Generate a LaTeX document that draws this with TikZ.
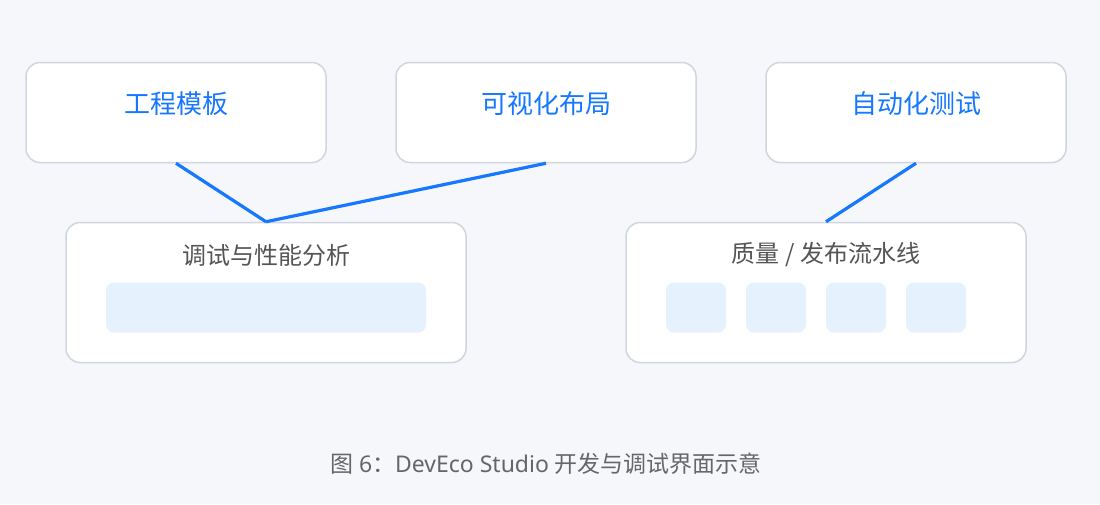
\documentclass[tikz,border=0pt]{standalone}
\usepackage{fontspec}
\setmainfont{Noto Sans CJK SC}
\newfontfamily\latinfont{Noto Sans}
\definecolor{bg}{HTML}{F5F7FB}
\definecolor{bord}{HTML}{D0D5E0}
\definecolor{accent}{HTML}{1677FF}
\definecolor{fillb}{HTML}{E6F1FE}
\definecolor{txt}{HTML}{555555}
\definecolor{cap}{HTML}{666666}
\tikzset{
  topbox/.style={draw=bord, line width=1.5pt, fill=white, rounded corners=14pt, minimum width=300pt, minimum height=100pt, inner sep=0pt},
  botbox/.style={draw=bord, line width=1.5pt, fill=white, rounded corners=14pt, minimum width=400pt, minimum height=140pt, inner sep=0pt},
  toplabel/.style={text=accent, font=\fontsize{26pt}{30pt}\selectfont},
  botlabel/.style={text=txt, font=\fontsize{24pt}{28pt}\selectfont},
  bar/.style={fill=fillb, rounded corners=8pt, inner sep=0pt, minimum height=50pt},
  link/.style={draw=accent, line width=3.2pt}
}
\begin{document}
\begin{tikzpicture}[x=1pt,y=-1pt]
\fill[bg] (0,0) rectangle (1100,504);
\useasboundingbox (0,0) rectangle (1100,504);
% top boxes
\node[topbox] (b1) at (176,112.5) {};
\node[topbox] (b2) at (546,112.5) {};
\node[topbox] (b3) at (916,112.5) {};
\node[toplabel] (t1) at (176,104) {工程模板};
\node[toplabel] (t2) at (546,104) {可视化布局};
\node[toplabel] (t3) at (916,104) {自动化测试};
% bottom boxes
\node[botbox] (d1) at (266,292.5) {};
\node[botbox] (d2) at (826,292.5) {};
\node[botlabel] (l1) at (266,255) {调试与性能分析};
\node[botlabel] (l2) at (826,255) {质量 / 发布流水线};
\node[bar, minimum width=320pt] (p1) at (266,307.5) {};
\node[bar, minimum width=60pt] (q1) at (696,307.5) {};
\node[bar, minimum width=60pt] (q2) at (776,307.5) {};
\node[bar, minimum width=60pt] (q3) at (856,307.5) {};
\node[bar, minimum width=60pt] (q4) at (936,307.5) {};
% connectors
\draw[link] (b1.south) -- (d1.north);
\draw[link] (b2.south) -- (d1.north);
\draw[link] (b3.south) -- (d2.north);
% caption
\node[text=cap, font=\fontsize{23pt}{27pt}\selectfont] (caption) at (546,464) {图 {\latinfont 6}：{\latinfont DevEco Studio} 开发与调试界面示意};
\end{tikzpicture}
\end{document}
